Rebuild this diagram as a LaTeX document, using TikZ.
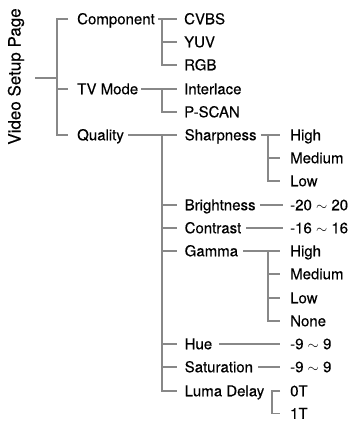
\documentclass[tikz,border=0pt]{standalone}
\usepackage{fontspec}
\setmainfont{TeX Gyre Heros}
\newfontfamily\lblfont[FakeBold=0.3]{TeX Gyre Heros}
\definecolor{lngray}{RGB}{136,136,136}
\begin{document}
\begin{tikzpicture}[x=1pt,y=-1pt,
  lbl/.style={anchor=west,inner sep=0pt,text height=10.5pt,text depth=0pt,font=\lblfont\fontsize{15}{18}\selectfont},
  ln/.style={draw=lngray,line width=1.1pt}]
\useasboundingbox (0,0) rectangle (350,421);
\node[rotate=90,anchor=base,inner sep=0pt,font=\lblfont\fontsize{17}{20}\selectfont] (title) at (20.5,76.5) {Video Setup Page};
% level 1
\node[lbl] (comp) at (77,19) {Component};
\node[lbl] (tv) at (77,89) {TV Mode};
\node[lbl] (qual) at (77,135) {Quality};
% level 2
\node[lbl] (cvbs) at (184,19) {CVBS};
\node[lbl] (yuv) at (184,42) {YUV};
\node[lbl] (rgb) at (184,65) {RGB};
\node[lbl] (inter) at (184,89) {Interlace};
\node[lbl] (pscan) at (184,112) {P-SCAN};
\node[lbl] (sharp) at (184.5,135) {Sharpness};
\node[lbl] (bright) at (184.5,205) {Brightness};
\node[lbl] (contr) at (184.5,228) {Contrast};
\node[lbl] (gamma) at (184.5,251) {Gamma};
\node[lbl] (hue) at (184.5,344) {Hue};
\node[lbl] (sat) at (184.5,367) {Saturation};
\node[lbl] (luma) at (184.5,391) {Luma Delay};
% level 3
\node[lbl] (sh) at (290,135) {High};
\node[lbl] (sm) at (290,158) {Medium};
\node[lbl] (sl) at (290,181) {Low};
\node[lbl] (bv) at (290,205) {-20 $\sim$ 20};
\node[lbl] (cv) at (290,228) {-16 $\sim$ 16};
\node[lbl] (gh) at (290,251) {High};
\node[lbl] (gm) at (290,274) {Medium};
\node[lbl] (gl) at (290,298) {Low};
\node[lbl] (gn) at (290,321) {None};
\node[lbl] (hv) at (290,344) {-9 $\sim$ 9};
\node[lbl] (sv) at (290,367) {-9 $\sim$ 9};
\node[lbl] (l0) at (290,391) {0T};
\node[lbl] (l1) at (290,413.5) {1T};
% root connectors
\coordinate (stub) at (35,78);
\draw[ln] (stub) -- (stub -| 57,0);
\draw[ln] ([xshift=-9pt]comp.west) -| ([xshift=-20pt]qual.west) -- ([xshift=-9pt]qual.west);
\draw[ln] ([xshift=-20pt]tv.west) -- ([xshift=-9pt]tv.west);
% component
\draw[ln] ([xshift=3pt]comp.east) -- ([xshift=-7pt]cvbs.west);
\draw[ln] ([xshift=-22pt]cvbs.west) |- ([xshift=-7pt]rgb.west);
\draw[ln] ([xshift=-22pt]yuv.west) -- ([xshift=-7pt]yuv.west);
% tv mode
\draw[ln] ([xshift=3pt]tv.east) -- ([xshift=-7pt]inter.west);
\draw[ln] ([xshift=-22pt]inter.west) |- ([xshift=-7pt]pscan.west);
% quality
\draw[ln] ([xshift=4pt]qual.east) -- ([xshift=-7.5pt]sharp.west);
\draw[ln] ([xshift=-22.5pt]sharp.west) |- ([xshift=-7.5pt]luma.west);
\foreach \n in {bright,contr,gamma,hue,sat}
  \draw[ln] ([xshift=-22.5pt]\n.west) -- ([xshift=-7.5pt]\n.west);
% sharpness
\draw[ln] ([xshift=4pt]sharp.east) -- ([xshift=-10pt]sh.west);
\draw[ln] ([xshift=-22pt]sh.west) |- ([xshift=-10pt]sl.west);
\draw[ln] ([xshift=-22pt]sm.west) -- ([xshift=-10pt]sm.west);
% brightness, contrast
\draw[ln] ([xshift=4pt]bright.east) -- ([xshift=-7pt]bv.west);
\draw[ln] ([xshift=5pt]contr.east) -- ([xshift=-7pt]cv.west);
% gamma
\draw[ln] ([xshift=5pt]gamma.east) -- ([xshift=-10pt]gh.west);
\draw[ln] ([xshift=-22pt]gh.west) |- ([xshift=-10pt]gn.west);
\foreach \n in {gm,gl}
  \draw[ln] ([xshift=-22pt]\n.west) -- ([xshift=-10pt]\n.west);
% hue, saturation
\draw[ln] ([xshift=7pt]hue.east) -- ([xshift=-10pt]hv.west);
\draw[ln] ([xshift=5pt]sat.east) -- ([xshift=-10pt]sv.west);
% luma delay
\draw[ln] ([xshift=-10pt]l0.west) -- ([xshift=-18pt]l0.west) |- ([xshift=-10pt]l1.west);
\end{tikzpicture}
\end{document}
